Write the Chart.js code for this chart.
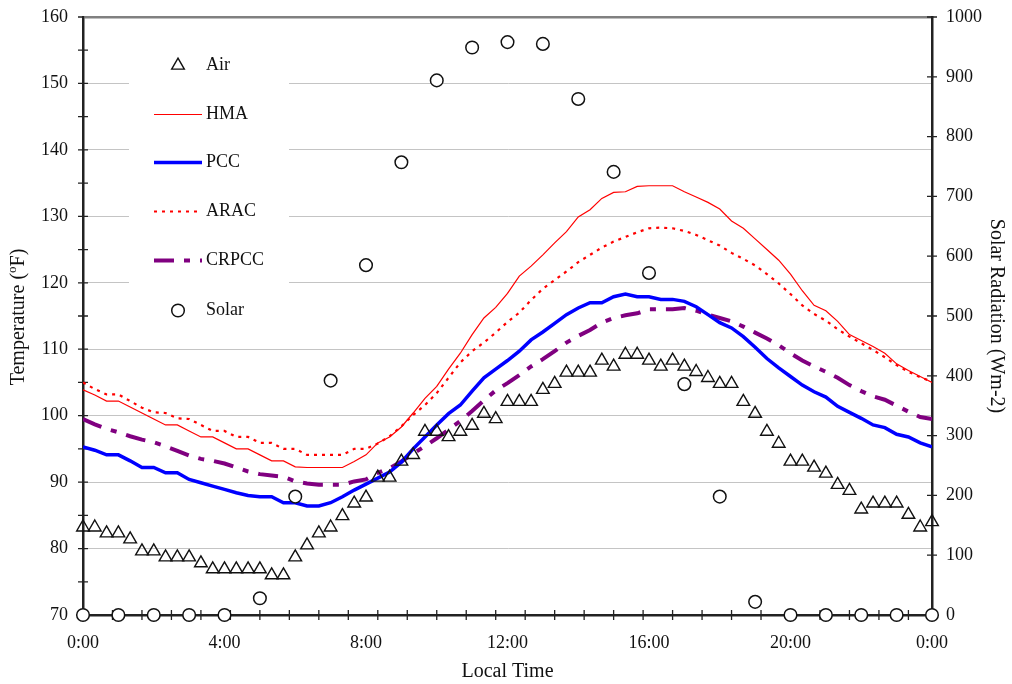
<!DOCTYPE html>
<html><head><meta charset="utf-8">
<script src="https://cdn.jsdelivr.net/npm/chart.js@4.4.1/dist/chart.umd.min.js"></script>
<style>html,body{margin:0;padding:0;background:#fff}#wrap{width:1012px;height:684px}</style>
</head><body><div id="wrap"><canvas id="c" width="1012" height="684"></canvas></div>
<script>
// ---- data ----
// temperature readings every 20 minutes (hours since midnight)
const tempTimes = Array.from({length: 73}, (_, i) => i / 3);
const solarTimes = [0,1,2,3,4,5,6,7,8,9,10,11,12,13,14,15,16,17,18,19,20,21,22,23,24];

const air = [83.2,83.2,82.3,82.3,81.4,79.6,79.6,78.7,78.7,78.7,77.8,76.9,76.9,76.9,76.9,76.9,76.0,76.0,78.7,80.5,82.3,83.2,84.9,86.8,87.7,
  90.7,90.7,93.1,94.1,97.6,97.6,96.8,97.6,98.5,100.3,99.5,102.1,102.1,102.1,103.9,104.8,106.5,106.5,106.5,108.3,107.4,109.2,109.2,108.3,
  107.4,108.3,107.4,106.6,105.7,104.8,104.8,102.1,100.3,97.6,95.8,93.1,93.1,92.2,91.3,89.6,88.7,85.9,86.8,86.8,86.8,85.1,83.2,84.0];

const hma = [103.9,103.1,102.2,102.2,101.3,100.4,99.5,98.6,98.6,97.7,96.8,96.8,95.9,95.0,95.0,94.1,93.2,93.2,92.3,92.2,92.2,92.2,92.2,93.1,94.1,
  95.9,96.8,98.3,100.4,102.6,104.4,107.0,109.4,112.2,114.7,116.3,118.4,121.0,122.5,124.2,126.0,127.7,129.9,131.0,132.7,133.6,133.7,134.5,134.6,
  134.6,134.6,133.7,132.9,132.1,131.1,129.3,128.2,126.6,125.0,123.4,121.3,118.8,116.6,115.8,114.2,112.2,111.3,110.4,109.4,107.8,106.8,105.9,105.0];

const pcc = [95.3,94.8,94.1,94.1,93.2,92.2,92.2,91.4,91.4,90.4,89.9,89.4,88.9,88.4,88.0,87.8,87.8,86.9,86.9,86.4,86.4,86.9,87.8,88.8,89.7,
  90.6,91.5,93.0,95.0,96.8,98.6,100.3,101.6,103.7,105.7,107.0,108.3,109.7,111.4,112.6,113.9,115.2,116.2,117.0,117.0,117.9,118.3,117.9,117.9,
  117.5,117.5,117.2,116.4,115.2,114.0,113.2,111.9,110.3,108.6,107.2,105.9,104.6,103.6,102.8,101.4,100.5,99.6,98.6,98.2,97.2,96.8,95.9,95.3];

const arac = [105.0,104.0,103.2,103.2,102.2,101.2,100.5,100.4,99.6,99.5,98.6,97.7,97.7,96.8,96.8,95.9,95.9,95.0,95.0,94.1,94.1,94.1,94.1,95.0,95.0,
  95.8,96.9,98.4,100.1,101.6,103.4,105.7,108.0,109.7,111.0,112.5,114.1,115.5,117.4,119.1,120.4,121.7,123.1,124.2,125.3,126.2,126.9,127.6,128.2,
  128.3,128.2,127.8,127.2,126.4,125.6,124.5,123.6,122.6,121.3,119.9,118.3,116.6,115.3,114.3,113.0,111.9,110.9,109.9,108.8,107.6,106.6,105.8,105.1];

const crpcc = [99.5,98.7,98.0,97.5,96.9,96.4,96.0,95.4,94.7,94.0,93.5,93.2,92.8,92.2,91.6,91.2,91.0,90.8,90.1,89.8,89.6,89.6,89.6,90.1,90.4,
  91.4,92.1,93.1,94.3,95.4,96.6,97.9,99.2,100.7,102.3,103.8,104.9,106.1,107.4,108.5,109.7,111.0,112.0,112.9,114.0,114.7,115.1,115.4,116.0,
  116.0,116.0,116.2,115.8,115.2,114.7,114.2,113.4,112.5,111.6,110.6,109.4,108.3,107.4,106.6,105.7,104.6,103.7,102.9,102.4,101.5,100.6,99.8,99.5];

const solar = [0,0,0,0,0,28,198,392,585,757,894,949,958,955,863,741,572,386,198,22,0,0,0,0,0];

const xTickLabels = ['0:00','4:00','8:00','12:00','16:00','20:00','0:00'];
const seriesNames = ['Air','HMA','PCC','ARAC','CRPCC','Solar'];

// ---- helpers ----
const FONT = "'Liberation Serif','Times New Roman',serif";
const pts = (xs, ys) => xs.map((x, i) => ({x, y: ys[i]}));

const crossTicks = {
  id: 'crossTicks',
  beforeDatasetsDraw(chart) {
    const {ctx, chartArea: a, scales} = chart;
    ctx.save();
    ctx.strokeStyle = '#222';
    ctx.lineWidth = 1.3;
    ctx.beginPath();
    for (let v = 70; v <= 160; v += 5) {
      const y = scales.y.getPixelForValue(v);
      ctx.moveTo(a.left - 5, y); ctx.lineTo(a.left + (v === 160 ? 0 : 5), y);
    }
    for (let v = 0; v <= 1000; v += 100) {
      const y = scales.y2.getPixelForValue(v);
      ctx.moveTo(a.right - 5, y); ctx.lineTo(a.right + 5, y);
    }
    for (let k = 1; k * 5 / 6 < 24; k++) {
      const x = scales.x.getPixelForValue(k * 5 / 6);
      ctx.moveTo(x, a.bottom - 5); ctx.lineTo(x, a.bottom + 5);
    }
    ctx.stroke();
    ctx.restore();
  }
};

const legendBox = {
  id: 'legendBox',
  beforeDatasetsDraw(chart) {
    const {ctx, chartArea: a} = chart;
    ctx.save();
    ctx.fillStyle = '#fff';
    ctx.fillRect(a.left + 46, a.top + 10, 160, 308);
    const x0 = a.left + 71, x1 = a.left + 119, xc = a.left + 95, xt = a.left + 123;
    const ys = [48.5, 97.5, 145.5, 194.5, 243.5, 293.5];
    ctx.font = '18px ' + FONT;
    ctx.textBaseline = 'middle';
    ctx.textAlign = 'left';
    chart.data.datasets.forEach((ds, i) => {
      const y = a.top + ys[i];
      ctx.save();
      if (ds.showLine === false) {
        ctx.lineWidth = ds.borderWidth;
        ctx.strokeStyle = ds.pointBorderColor;
        ctx.fillStyle = ds.pointBackgroundColor;
        ctx.beginPath();
        if (ds.pointStyle === 'triangle') {
          const r = ds.pointRadius;
          ctx.moveTo(xc, y - r);
          ctx.lineTo(xc + r * 0.866, y + r * 0.5);
          ctx.lineTo(xc - r * 0.866, y + r * 0.5);
          ctx.closePath();
        } else {
          ctx.arc(xc, y, ds.pointRadius, 0, Math.PI * 2);
          ctx.fill();
        }
        ctx.stroke();
      } else {
        ctx.lineWidth = ds.borderWidth;
        ctx.strokeStyle = ds.borderColor;
        ctx.setLineDash(ds.borderDash || []);
        ctx.beginPath();
        ctx.moveTo(x0, y); ctx.lineTo(x1, y);
        ctx.stroke();
      }
      ctx.restore();
      ctx.fillStyle = '#111';
      ctx.fillText(ds.label, xt, y);
    });
    ctx.restore();
  }
};

const leftTitle = {
  id: 'leftTitle',
  afterDraw(chart) {
    const {ctx, chartArea: a} = chart;
    const cx = 19, cy = (a.top + a.bottom) / 2 + 1;
    ctx.save();
    ctx.translate(cx, cy);
    ctx.rotate(-Math.PI / 2);
    ctx.fillStyle = '#111';
    ctx.textBaseline = 'middle';
    ctx.textAlign = 'left';
    const big = '20px ' + FONT, small = '13px ' + FONT;
    const p1 = 'Temperature (', p2 = 'o', p3 = 'F)';
    ctx.font = big; const w1 = ctx.measureText(p1).width, w3 = ctx.measureText(p3).width;
    ctx.font = small; const w2 = ctx.measureText(p2).width;
    let x = -(w1 + w2 + w3) / 2;
    ctx.font = big; ctx.fillText(p1, x, 0); x += w1;
    ctx.font = small; ctx.fillText(p2, x, -6); x += w2;
    ctx.font = big; ctx.fillText(p3, x, 0);
    ctx.restore();
  }
};

const tickFont = {family: FONT, size: 18};
const noPad = s => { s.paddingTop = 0; s.paddingBottom = 0; s.paddingLeft = 0; s.paddingRight = 0; };

new Chart(document.getElementById('c'), {
  type: 'line',
  data: {
    datasets: [
      {label: seriesNames[0], data: pts(tempTimes, air), yAxisID: 'y', showLine: false,
       pointStyle: 'triangle', pointRadius: 7.3, pointBorderColor: '#111', pointBackgroundColor: 'rgba(0,0,0,0)',
       borderWidth: 1.4, pointBorderWidth: 1.4, order: 1, clip: false},
      {label: seriesNames[1], data: pts(tempTimes, hma), yAxisID: 'y', borderColor: '#ff0000', borderWidth: 1.2,
       pointRadius: 0, tension: 0, order: 3},
      {label: seriesNames[2], data: pts(tempTimes, pcc), yAxisID: 'y', borderColor: '#0000ff', borderWidth: 3.5,
       pointRadius: 0, tension: 0, order: 2},
      {label: seriesNames[3], data: pts(tempTimes, arac), yAxisID: 'y', borderColor: '#ff0000', borderWidth: 2.2,
       borderDash: [3, 5], pointRadius: 0, tension: 0, order: 4},
      {label: seriesNames[4], data: pts(tempTimes, crpcc), yAxisID: 'y', borderColor: '#800080', borderWidth: 4,
       borderDash: [20, 10, 6, 10], pointRadius: 0, tension: 0, order: 5},
      {label: seriesNames[5], data: pts(solarTimes, solar), yAxisID: 'y2', showLine: false,
       pointStyle: 'circle', pointRadius: 6.3, pointBorderColor: '#111', pointBackgroundColor: '#fff',
       borderWidth: 1.5, pointBorderWidth: 1.5, order: 0, clip: false}
    ]
  },
  options: {
    responsive: false,
    devicePixelRatio: 1,
    animation: false,
    layout: {padding: {top: 17, left: 0, right: 0, bottom: 0}},
    plugins: {legend: {display: false}, tooltip: {enabled: false}},
    scales: {
      x: {
        type: 'linear', min: 0, max: 24,
        afterFit: s => { noPad(s); s.height = 69; },
        grid: {display: false, drawTicks: false},
        border: {display: true, color: '#222', width: 2.5},
        ticks: {stepSize: 4, autoSkip: false, maxRotation: 0, padding: 17, color: '#111', font: tickFont,
          callback: v => xTickLabels[v / 4]},
        title: {display: true, text: 'Local Time', color: '#111', font: {family: FONT, size: 20},
          padding: {top: 0, bottom: 0}}
      },
      y: {
        position: 'left', min: 70, max: 160,
        afterFit: s => { noPad(s); s.width = 83; },
        grid: {drawTicks: false,
          color: c => c.tick.value === 160 ? '#808080' : (c.tick.value === 70 ? 'rgba(0,0,0,0)' : '#c4c4c4'),
          lineWidth: c => c.tick.value === 160 ? 2.5 : 1},
        border: {display: true, color: '#222', width: 2.5},
        ticks: {stepSize: 10, padding: 15, color: '#111', font: tickFont, callback: v => String(v)}
      },
      y2: {
        position: 'right', min: 0, max: 1000,
        afterFit: s => { noPad(s); s.width = 80; },
        grid: {drawOnChartArea: false, drawTicks: false},
        border: {display: true, color: '#222', width: 2.5},
        ticks: {stepSize: 100, padding: 14, color: '#111', font: tickFont, callback: v => String(v)},
        title: {display: true, text: 'Solar Radiation (Wm-2)', color: '#111', font: {family: FONT, size: 20},
          padding: {top: 4, bottom: 0}}
      }
    }
  },
  plugins: [crossTicks, legendBox, leftTitle]
});
</script>
</body></html>
